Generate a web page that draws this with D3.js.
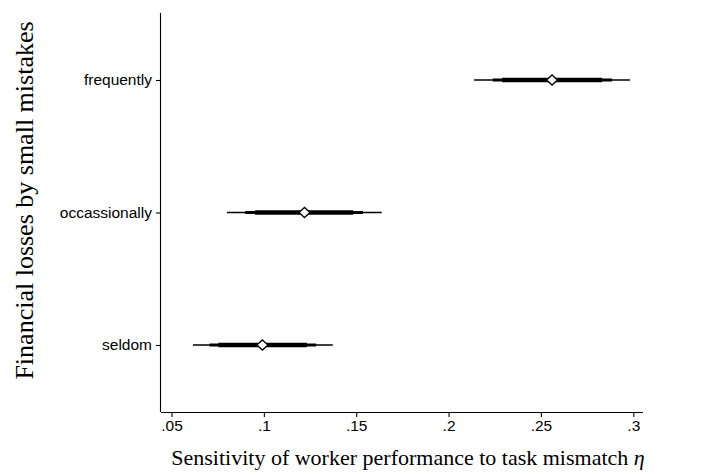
<!DOCTYPE html>
<html>
<head>
<meta charset="utf-8">
<script src="https://cdn.jsdelivr.net/npm/d3@7"></script>
<style>
  body { margin: 0; background: #fff; }
  text { fill: #000; }
</style>
</head>
<body>
<div id="chart"></div>
<script>
// categories (top to bottom)
var categories = ["frequently", "occassionally", "seldom"]
// point estimates
var estimates = [0.256, 0.122, 0.0992]
// outer (thin) interval
var ciLow99 = [0.2138, 0.080, 0.0616]
var ciHigh99 = [0.2982, 0.1638, 0.1373]
// middle interval
var ciLow95 = [0.2239, 0.0899, 0.0706]
var ciHigh95 = [0.2885, 0.1537, 0.1283]
// inner (thick) interval
var ciLow90 = [0.2290, 0.0953, 0.0754]
var ciHigh90 = [0.2831, 0.1483, 0.1233]
// x tick values
var xTicks = [0.05, 0.1, 0.15, 0.2, 0.25, 0.3]

var data = categories.map((c, i) => ({
    cat: c, est: estimates[i],
    lo1: ciLow99[i], hi1: ciHigh99[i],
    lo2: ciLow95[i], hi2: ciHigh95[i],
    lo3: ciLow90[i], hi3: ciHigh90[i]
}))

var W = 715, H = 476
var margin = {top: 13, right: 72, bottom: 64, left: 161},
    width = W - margin.left - margin.right,
    height = H - margin.top - margin.bottom

var svg = d3.select("#chart")
    .append("svg")
        .attr("width", W)
        .attr("height", H)

var g = svg.append("g")
    .attr("transform", `translate(${margin.left},${margin.top})`)

// x scale: .05 sits a little right of the y axis
var x = d3.scaleLinear()
    .domain([0.05, 0.3])
    .range([10.5, 472.3])

var y = d3.scalePoint()
    .domain(categories)
    .range([67, 332])

// x axis
var xAxis = g.append("g")
    .attr("transform", `translate(0,${height})`)
    .call(d3.axisBottom(x).tickValues(xTicks).tickSize(5).tickSizeOuter(0)
        .tickFormat(d => d3.format(".2~f")(d).replace(/^0/, "")))
xAxis.select(".domain").attr("d", `M0,0.5H${width}`)

// y axis
var yAxis = g.append("g")
    .call(d3.axisLeft(y).tickSize(5).tickPadding(4).tickSizeOuter(0))
yAxis.select(".domain").attr("d", `M-0.5,0V${height}`)

g.selectAll(".domain, .tick line").attr("stroke", "#000").attr("stroke-width", 1.1)
g.selectAll(".tick text")
    .attr("font-family", "'Liberation Sans', Arial, sans-serif")
    .attr("font-size", 15.5)
    .attr("fill", "#000")

// intervals
var rows = g.append("g").selectAll("g")
    .data(data)
    .join("g")

rows.append("line")
    .attr("x1", d => x(d.lo1)).attr("x2", d => x(d.hi1))
    .attr("y1", d => y(d.cat)).attr("y2", d => y(d.cat))
    .attr("stroke", "#000").attr("stroke-width", 1.3)
rows.append("line")
    .attr("x1", d => x(d.lo2)).attr("x2", d => x(d.hi2))
    .attr("y1", d => y(d.cat)).attr("y2", d => y(d.cat))
    .attr("stroke", "#000").attr("stroke-width", 3)
rows.append("line")
    .attr("x1", d => x(d.lo3)).attr("x2", d => x(d.hi3))
    .attr("y1", d => y(d.cat)).attr("y2", d => y(d.cat))
    .attr("stroke", "#000").attr("stroke-width", 4.5)

// diamond markers
rows.append("path")
    .attr("d", d => {
        var cx = x(d.est), cy = y(d.cat)
        return `M${cx - 5.5},${cy}L${cx},${cy - 5}L${cx + 5.5},${cy}L${cx},${cy + 5}Z`
    })
    .attr("fill", "#fff")
    .attr("stroke", "#000")
    .attr("stroke-width", 1.3)

// axis titles
svg.append("text")
    .attr("transform", `translate(33,${(18 + 383) / 2}) rotate(-90)`)
    .attr("text-anchor", "middle")
    .attr("font-family", "'Liberation Serif', 'Times New Roman', serif")
    .attr("font-size", 26)
    .text("Financial losses by small mistakes")

svg.append("text")
    .attr("x", margin.left + width / 2 + 6)
    .attr("y", 465)
    .attr("text-anchor", "middle")
    .attr("font-family", "'Liberation Serif', 'Times New Roman', serif")
    .attr("font-size", 22)
    .text("Sensitivity of worker performance to task mismatch ")
    .append("tspan")
        .attr("font-style", "italic")
        .text("η")
</script>
</body>
</html>
